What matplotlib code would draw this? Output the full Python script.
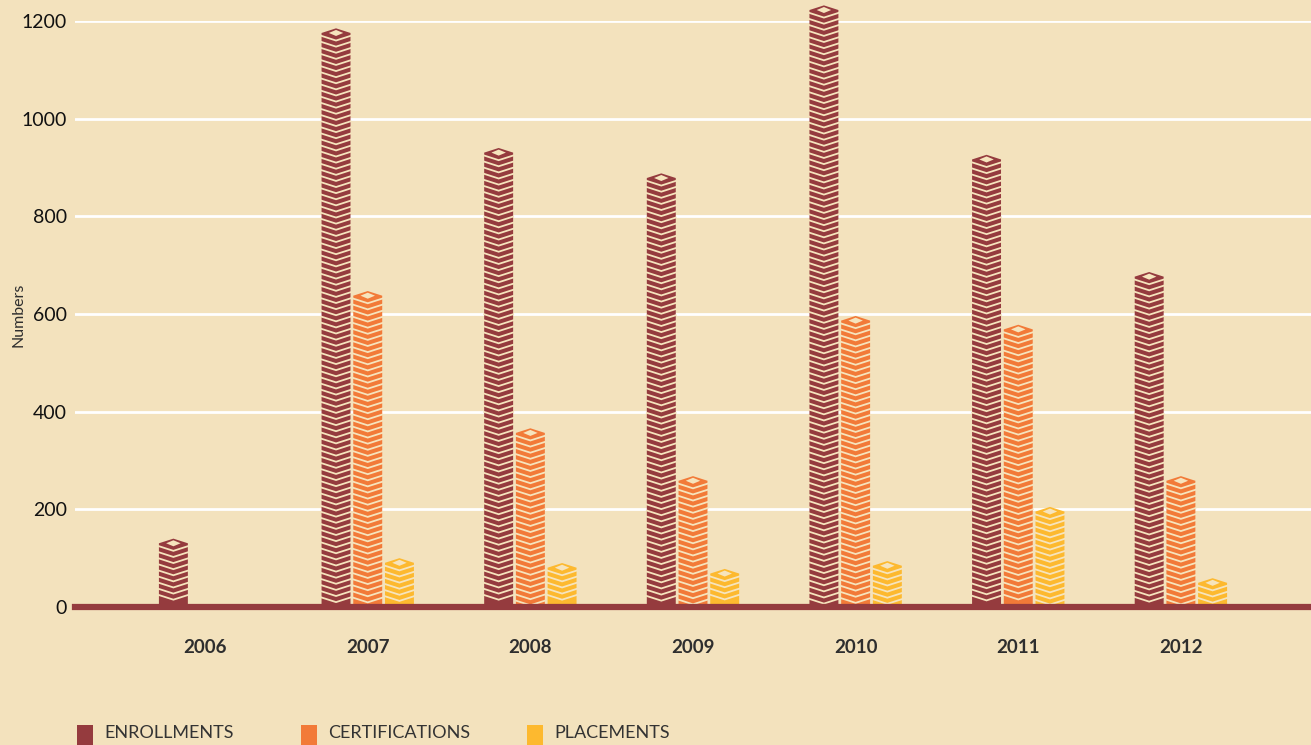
import numpy as np
import matplotlib
matplotlib.use("Agg")
import matplotlib.pyplot as plt
from matplotlib.patches import Polygon, Rectangle

years = ["2006", "2007", "2008", "2009", "2010", "2011", "2012"]
enrollments = [140, 1185, 940, 888, 1232, 926, 686]
certifications = [0, 647, 366, 268, 596, 578, 268]
placements = [0, 100, 90, 78, 94, 205, 59]

series = ["ENROLLMENTS", "CERTIFICATIONS", "PLACEMENTS"]
colors = ["#953b3e", "#f27a38", "#fdb92f"]
bg = "#f3e2bd"
light = "#f6e4bd"

plt.rcParams['font.family'] = ['Lato', 'DejaVu Sans']

fig = plt.figure(figsize=(13.11, 7.45), dpi=100, facecolor=bg)
ax = fig.add_axes([75/1311, (745-607)/745, (1311-75)/1311, (607-21)/745])
ax.set_facecolor(bg)

x = np.arange(len(years))
w = 0.178      # bar width
step = 0.195   # offset between bars in a group
d = 9.5        # chevron depth (data units)
pitch = 12.5   # spacing of chevrons


def chevron_bar(c, v, col):
    if v <= 0:
        return
    hw = w / 2
    body = Polygon([(c-hw, 0), (c-hw, v-d), (c, v), (c+hw, v-d), (c+hw, 0)],
                   closed=True, facecolor=col, edgecolor='none', zorder=3,
                   clip_on=False)
    ax.add_patch(body)
    # light diamond on top
    ax.add_patch(Polygon([(c-hw*0.5, v-d), (c, v-d*0.35), (c+hw*0.5, v-d),
                          (c, v-d*1.65)], closed=True, facecolor=light,
                         edgecolor='none', zorder=4, clip_on=False))
    yk = v - d - 6
    while yk - d > 3:
        ax.plot([c-hw, c, c+hw], [yk, yk-d, yk], color=light, lw=1.3,
                zorder=4, solid_joinstyle='miter', clip_on=False)
        yk -= pitch


for i in range(len(years)):
    chevron_bar(x[i]-step, enrollments[i], colors[0])
    chevron_bar(x[i], certifications[i], colors[1])
    chevron_bar(x[i]+step, placements[i], colors[2])

ax.set_xlim(-0.8, 6.8)
ax.set_ylim(0, 1200)
ax.set_yticks(range(0, 1201, 200))
ax.yaxis.grid(True, color='white', lw=2, zorder=1)
ax.set_axisbelow(True)
ax.axhline(0, color=colors[0], lw=4.5, zorder=5, clip_on=False)

for s in ax.spines.values():
    s.set_visible(False)
ax.tick_params(axis='both', length=0)
ax.tick_params(axis='y', pad=6, labelsize=14, labelcolor='#111111')
ax.set_xticks(x)
ax.set_xticklabels(years, fontweight='bold', fontsize=13.5, color='#2e2e2e')
ax.tick_params(axis='x', pad=23)
fig.text(18/1311, (745-315)/745, "Numbers", rotation=90, fontsize=11.5,
         color='#2e2e2e', ha='center', va='center')

# legend along the bottom
lx = [77, 301, 527]
for i, name in enumerate(series):
    fig.patches.append(Rectangle((lx[i]/1311, 0), 16/1311, 20/745,
                                 transform=fig.transFigure, facecolor=colors[i],
                                 edgecolor='none'))
    fig.text((lx[i]+27)/1311, (745-733)/745, name, fontsize=13,
             color='#333333', va='center', ha='left')

fig.savefig("out.png", dpi=100, facecolor=bg)
